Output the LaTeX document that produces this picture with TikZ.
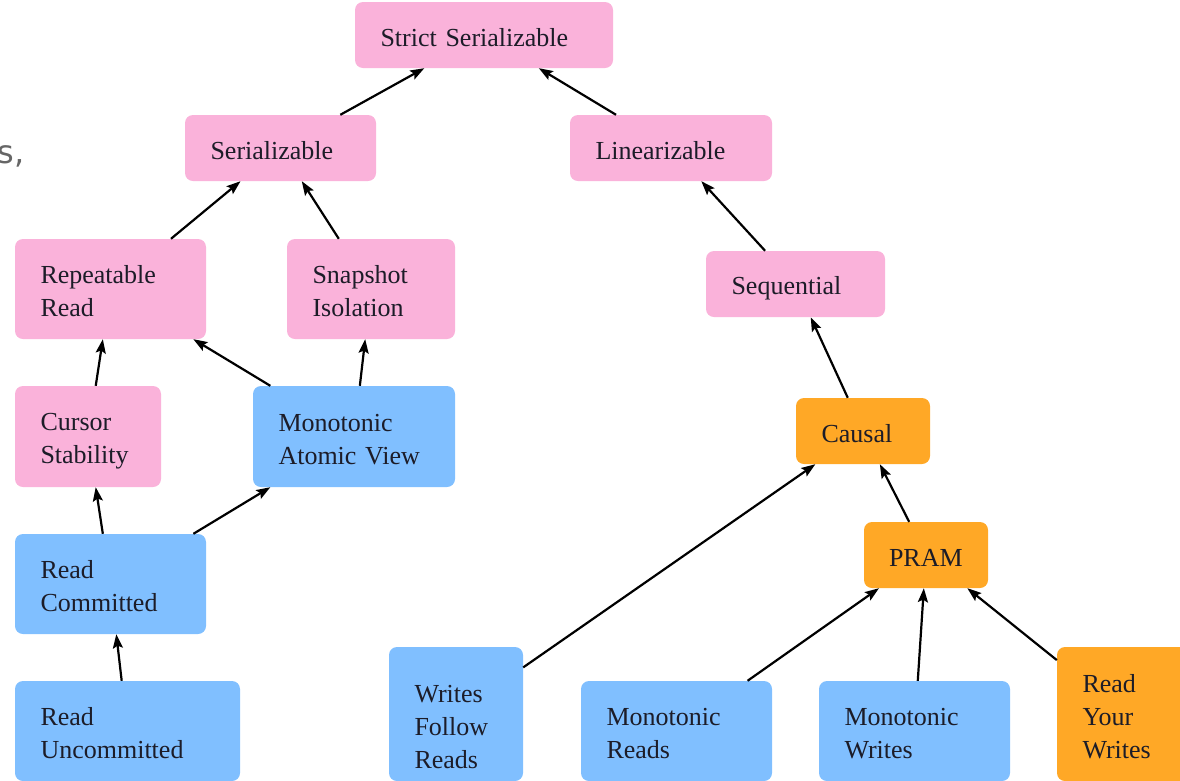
\documentclass[tikz,border=0pt]{standalone}
\usepackage{fontspec}
\setmainfont{Liberation Serif}
\newfontfamily\fragfont{DejaVu Sans}
\usetikzlibrary{arrows.meta}
\definecolor{pinkbox}{RGB}{250,178,218}
\definecolor{bluebox}{RGB}{128,191,255}
\definecolor{orangebox}{RGB}{255,168,38}
\definecolor{labeltext}{RGB}{28,28,40}
% strut that fixes the height of the first line and the depth of the last one
\newcommand\boxstrut{\rule[-5pt]{0pt}{32pt}}
% taller first-line strut, pushes a label block further down
\newcommand\lowstrut{\rule[-5pt]{0pt}{52pt}}
\begin{document}
\begin{tikzpicture}[x=1pt,y=-1pt,
  box/.style={rounded corners=8pt, inner xsep=25.5pt, inner ysep=0pt,
    align=left, text=labeltext, font=\fontsize{26}{33}\selectfont,
    execute at begin node=\boxstrut, execute at end node=\boxstrut},
  pinkn/.style={box, fill=pinkbox},
  bluen/.style={box, fill=bluebox},
  orangen/.style={box, fill=orangebox},
  arr/.style={-{Stealth[length=14pt,width=10pt,inset=2.5pt]}, line width=2.2pt, black}
]
\useasboundingbox (0,0) rectangle (1180,780);
\clip (0,0) rectangle (1180,780);

% stray caption fragment at the left edge
\node[anchor=base east, inner sep=0pt, text=black!60, font=\fragfont\fontsize{32}{38}\selectfont] (frag) at (25,163) {s,};

% consistency models
\node[pinkn, minimum width=258pt, minimum height=66pt, text width=207pt] (strict) at (484,35) {Strict Serializable};
\node[pinkn, minimum width=191pt, minimum height=66pt, text width=140pt] (ser) at (280.5,148) {Serializable};
\node[pinkn, minimum width=202pt, minimum height=66pt, text width=151pt] (lin) at (671,148) {Linearizable};
\node[pinkn, minimum width=191pt, minimum height=100pt, text width=140pt] (rr) at (110.5,289) {Repeatable\\Read};
\node[pinkn, minimum width=168pt, minimum height=100pt, text width=117pt] (si) at (371,289) {Snapshot\\Isolation};
\node[pinkn, minimum width=179pt, minimum height=66pt, text width=128pt] (seq) at (795.5,284) {Sequential};
\node[pinkn, minimum width=146pt, minimum height=101pt, text width=95pt] (cs) at (88,436.5) {Cursor\\Stability};
\node[bluen, minimum width=202pt, minimum height=101pt, text width=151pt] (mav) at (354,436.5) {Monotonic\\Atomic View};
\node[orangen, minimum width=134pt, minimum height=66pt, text width=83pt] (causal) at (863,431) {Causal};
\node[bluen, minimum width=191pt, minimum height=100pt, text width=140pt] (rc) at (110.5,584) {Read\\Committed};
\node[orangen, minimum width=124pt, minimum height=66pt, text width=74pt, inner xsep=25pt] (pram) at (926,555) {PRAM};
\node[bluen, minimum width=225pt, minimum height=100pt, text width=174pt] (ru) at (127.5,731) {Read\\Uncommitted};
\node[bluen, minimum width=134pt, minimum height=134pt, text width=83pt,
  execute at begin node=\lowstrut] (wfr) at (456,714) {Writes\\Follow\\Reads};
\node[bluen, minimum width=191pt, minimum height=100pt, text width=140pt] (mr) at (676.5,731) {Monotonic\\Reads};
\node[bluen, minimum width=191pt, minimum height=100pt, text width=140pt] (mw) at (914.5,731) {Monotonic\\Writes};
\node[orangen, minimum width=134pt, minimum height=134pt, text width=83pt] (ryw) at (1124,714) {Read\\Your\\Writes};

% implications
\draw[arr] (ser) -- (strict);
\draw[arr] (lin) -- (strict);
\draw[arr] (rr) -- (ser);
\draw[arr] (si) -- (ser);
\draw[arr] (seq) -- (lin);
\draw[arr] (cs) -- (rr);
\draw[arr] (mav) -- (rr);
\draw[arr] (mav) -- (si);
\draw[arr] (causal) -- (seq);
\draw[arr] (rc) -- (cs);
\draw[arr] (rc) -- (mav);
\draw[arr] (ru) -- (rc);
\draw[arr] (wfr) -- (causal);
\draw[arr] (pram) -- (causal);
\draw[arr] (mr) -- (pram);
\draw[arr] (mw) -- (pram);
\draw[arr] (ryw) -- (pram);
\end{tikzpicture}
\end{document}
